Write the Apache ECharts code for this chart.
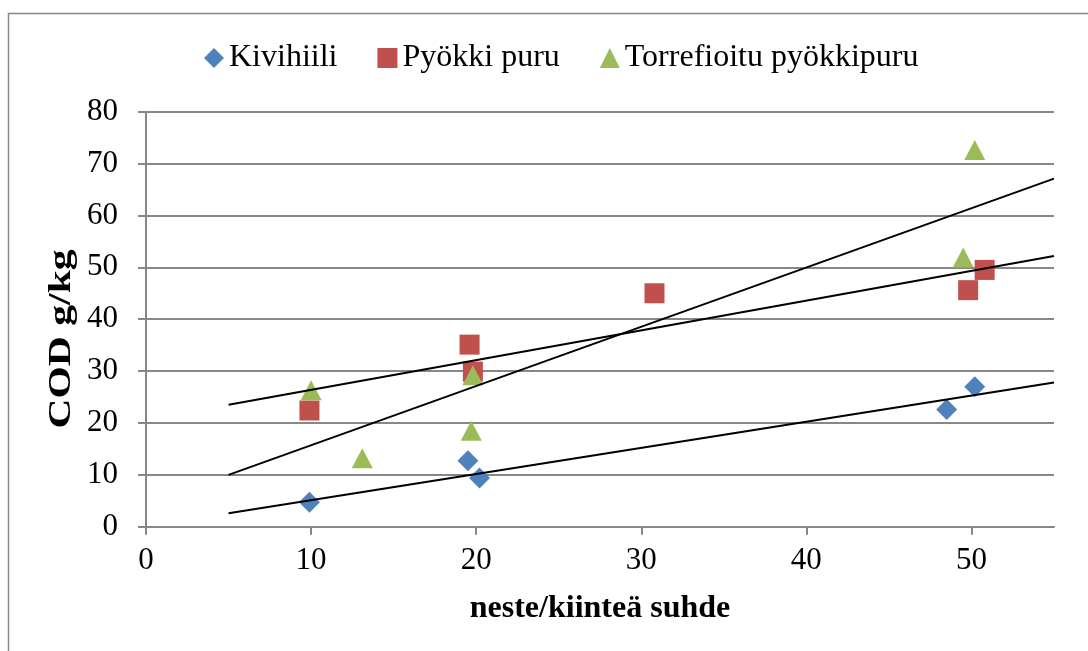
<!DOCTYPE html>
<html>
<head>
<meta charset="utf-8">
<title>COD g/kg</title>
<script src="https://cdn.jsdelivr.net/npm/echarts@6/dist/echarts.min.js"></script>
<style>
  html, body { margin: 0; padding: 0; background: #ffffff; }
  #chart { width: 1088px; height: 651px; }
</style>
</head>
<body>
<div id="chart"></div>
<script>
// Measured points: liquid/solid ratio (x) vs COD g/kg (y)
const kivihiiliX = [9.9, 19.5, 20.2, 48.5, 50.2];
const kivihiiliY = [4.7, 12.7, 9.4, 22.6, 27.0];

const pyokkiX = [9.9, 19.6, 19.8, 30.8, 49.8, 50.8];
const pyokkiY = [22.4, 35.1, 29.9, 45.0, 45.6, 49.5];

const torrefX = [10.0, 13.1, 19.7, 19.8, 49.5, 50.2];
const torrefY = [26.3, 13.2, 18.5, 29.2, 51.9, 72.6];

// Linear trendlines, start and end values
const trendX = [5, 55];
const trendKivihiili = [2.6, 27.8];
const trendPyokki = [23.5, 52.2];
const trendTorref = [10.0, 67.1];

const xTicks = [0, 10, 20, 30, 40, 50];
const yTicks = [0, 10, 20, 30, 40, 50, 60, 70, 80];

const seriesNames = ['Kivihiili', 'Pyökki puru', 'Torrefioitu pyökkipuru'];
const colors = ['#4F81BD', '#C0504D', '#9BBB59'];
const yTitle = 'COD g/kg';
const xTitle = 'neste/kiinteä suhde';

const zip = (xs, ys) => xs.map((x, i) => [x, ys[i]]);
const FONT = 'Liberation Serif';
const GRAY = '#878787';

const chart = echarts.init(document.getElementById('chart'), null, { renderer: 'canvas' });

const scatter = (name, xs, ys, symbol, size, color, z) => ({
  name, type: 'scatter', data: zip(xs, ys), symbol, symbolSize: size,
  itemStyle: { color, opacity: 1 }, z, silent: true
});
const trend = (ys) => ({
  type: 'line', data: zip(trendX, ys), symbol: 'none', z: 10, silent: true,
  lineStyle: { color: '#000000', width: 2 }
});

chart.setOption({
  animation: false,
  backgroundColor: '#ffffff',
  graphic: [
    {
      // outer chart frame
      type: 'rect', silent: true,
      shape: { x: 8.5, y: 13.5, width: 1200, height: 800 },
      style: { fill: 'none', stroke: GRAY, lineWidth: 1.5 }
    },
    {
      // vertical axis title, stretched along its reading direction
      type: 'text', silent: true,
      x: 62, y: 339, rotation: Math.PI / 2, scaleX: 1.3,
      style: {
        text: yTitle, fill: '#000000',
        font: 'bold 32px "Liberation Serif"',
        align: 'center', verticalAlign: 'middle'
      }
    }
  ],
  legend: {
    left: 199, top: 37,
    itemWidth: 20, itemHeight: 20, itemGap: 40,
    data: seriesNames,
    textStyle: { fontFamily: FONT, fontSize: 32, color: '#000000' }
  },
  grid: { left: 146, right: 34, top: 111.7, bottom: 124.3, containLabel: false },
  xAxis: {
    type: 'value', min: 0, max: 55, interval: 10,
    name: xTitle, nameLocation: 'middle', nameGap: 66,
    nameTextStyle: { fontFamily: FONT, fontSize: 32, fontWeight: 'bold', color: '#000000' },
    axisLine: { show: true, onZero: false, lineStyle: { color: GRAY, width: 2 } },
    axisTick: { show: true, length: 8, customValues: xTicks, lineStyle: { color: GRAY, width: 2 } },
    axisLabel: { margin: 19, customValues: xTicks, fontFamily: FONT, fontSize: 31, color: '#000000' },
    splitLine: { show: false }
  },
  yAxis: {
    type: 'value', min: 0, max: 80, interval: 10,
    axisLine: { show: true, lineStyle: { color: GRAY, width: 2 } },
    axisTick: { show: true, length: 8, customValues: yTicks, lineStyle: { color: GRAY, width: 2 } },
    axisLabel: { margin: 28, customValues: yTicks, fontFamily: FONT, fontSize: 31, color: '#000000' },
    splitLine: { show: true, lineStyle: { color: GRAY, width: 2 } }
  },
  series: [
    scatter(seriesNames[0], kivihiiliX, kivihiiliY, 'diamond', [21, 21], colors[0], 3),
    scatter(seriesNames[1], pyokkiX, pyokkiY, 'rect', [20, 20], colors[1], 4),
    scatter(seriesNames[2], torrefX, torrefY, 'triangle', [21, 20], colors[2], 5),
    trend(trendKivihiili),
    trend(trendPyokki),
    trend(trendTorref)
  ]
});
</script>
</body>
</html>
